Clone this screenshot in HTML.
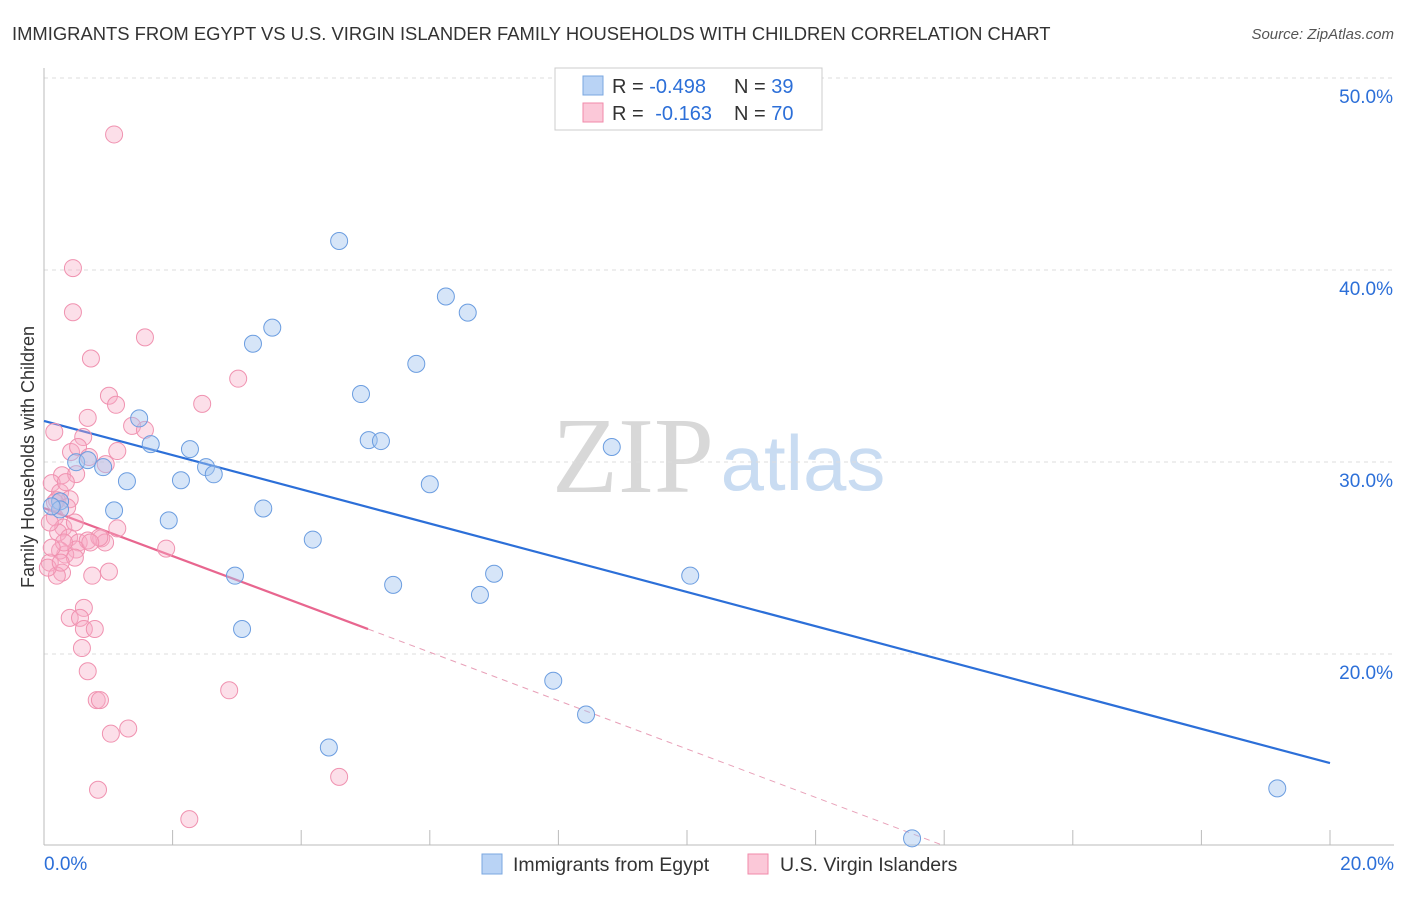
<!DOCTYPE html>
<html><head><meta charset="utf-8"><style>
body{margin:0;background:#fff;font-family:"Liberation Sans",sans-serif;}
</style></head><body>
<svg id="chart" width="1406" height="892" xmlns="http://www.w3.org/2000/svg">
<text x="12" y="40" font-size="18.4" fill="#333">IMMIGRANTS FROM EGYPT VS U.S. VIRGIN ISLANDER FAMILY HOUSEHOLDS WITH CHILDREN CORRELATION CHART</text>
<text x="1394" y="39" font-size="15" fill="#555" font-style="italic" text-anchor="end">Source: ZipAtlas.com</text>
<g>
<text x="633" y="492" font-size="108" fill="#d8d8d8" font-family="Liberation Serif,serif" text-anchor="middle">ZIP</text>
<text x="803" y="490" font-size="78" fill="#c9dcf2" text-anchor="middle">atlas</text>
</g>
<g id="grid"></g>
<g id="axes"></g>
<g id="lines"></g>
<g id="points"></g>
<text transform="translate(34,457) rotate(-90)" font-size="18" fill="#333" text-anchor="middle">Family Households with Children</text>
<g>
<rect x="555" y="68" width="267" height="62" fill="#fff" stroke="#ccc"/>
<rect x="583" y="76" width="20" height="19" fill="#b9d3f5" stroke="#7aa7e0"/>
<rect x="583" y="103" width="20" height="19" fill="#fbc8d8" stroke="#f08aaa"/>
<text x="612" y="93" font-size="20" fill="#333">R = <tspan fill="#2c6fd8">-0.498</tspan><tspan x="734">N = </tspan><tspan fill="#2c6fd8">39</tspan></text>
<text x="612" y="120" font-size="20" fill="#333">R = <tspan fill="#2c6fd8" dx="6">-0.163</tspan><tspan x="734">N = </tspan><tspan fill="#2c6fd8">70</tspan></text>
</g>
<g>
<rect x="482" y="854" width="20" height="20" fill="#b9d3f5" stroke="#7aa7e0"/>
<text x="513" y="871" font-size="19.5" fill="#333">Immigrants from Egypt</text>
<rect x="748" y="854" width="20" height="20" fill="#fbc8d8" stroke="#f08aaa"/>
<text x="780" y="871" font-size="19.5" fill="#333">U.S. Virgin Islanders</text>
</g>
</svg>
<script>
const blueX=[4.59,6.25,6.59,3.55,3.25,5.79,4.93,1.48,1.66,5.05,5.24,2.27,8.83,0.50,0.68,0.92,2.52,2.64,2.13,1.29,6.00,3.41,1.09,1.94,0.25,4.18,7.00,10.05,2.97,5.43,6.78,3.08,7.92,8.43,4.43,19.18,13.50,0.25,0.12];
const blueY=[41.51,38.62,37.78,37.0,36.16,35.11,33.54,32.27,30.93,31.14,31.09,30.67,30.78,29.99,30.10,29.73,29.73,29.36,29.05,29.0,28.84,27.58,27.48,26.96,27.95,25.96,24.18,24.08,24.08,23.60,23.08,21.30,18.61,16.85,15.13,13.0,10.4,27.53,27.69];
const pinkX=[1.09,0.45,0.45,0.73,1.57,3.02,1.01,1.12,2.46,0.68,0.16,1.37,1.57,0.61,0.42,1.14,0.53,0.70,0.96,0.28,0.50,0.12,0.25,0.40,0.20,0.36,0.17,0.30,0.22,0.39,0.54,0.68,0.89,0.95,0.50,0.33,0.25,0.09,0.28,0.48,1.14,1.90,0.86,0.20,0.75,1.01,0.62,0.40,0.56,0.62,0.79,0.59,0.68,0.82,0.87,1.04,1.31,2.88,0.84,2.26,4.59,0.06,0.09,0.17,0.34,0.72,0.48,0.31,0.12,0.26];
const pinkY=[47.06,40.10,37.80,35.39,36.49,34.34,33.45,32.98,33.03,32.30,31.57,31.88,31.67,31.30,30.52,30.57,30.78,30.26,29.89,29.31,29.37,28.90,28.42,28.06,28.01,27.64,27.12,26.59,26.33,26.07,25.81,25.91,26.02,25.81,25.44,25.18,25.39,24.76,24.24,25.02,26.54,25.49,26.07,24.08,24.08,24.29,22.40,21.88,21.88,21.30,21.30,20.31,19.10,17.60,17.60,15.85,16.12,18.11,12.93,11.40,13.60,24.50,26.85,27.90,28.95,25.81,26.85,25.81,25.54,24.76];
const blueTrend=[[0,32.14],[20,14.32]];
const pinkTrendSolid=[[0,27.60],[5.04,21.30]];
const pinkTrendDash=[[5.04,21.30],[13.97,10.05]];
const yTicks=[20,30,40,50];
const xTickVals=[0,2,4,6,8,10,12,14,16,18,20];
const NS="http://www.w3.org/2000/svg";
const xS=v=>44+v*64.3;
const yS=v=>78+(50-v)*19.2;
function mk(tag,attrs,parent){const e=document.createElementNS(NS,tag);for(const k in attrs)e.setAttribute(k,attrs[k]);document.getElementById(parent).appendChild(e);return e;}
yTicks.forEach(t=>{
  const l=mk('line',{x1:44,x2:1394,y1:yS(t),y2:yS(t),stroke:'#ddd','stroke-dasharray':'4,4'},'grid');
  
  
  const tx=mk('text',{x:1393,y:yS(t)+25,'font-size':19,fill:'#2c6fd8','text-anchor':'end'},'grid');
  tx.textContent=t.toFixed(1)+'%';
  
  
});
const ax=mk('line',{x1:44,x2:44,y1:68,y2:845,stroke:'#bbb'},'axes');


const bx=mk('line',{x1:44,x2:1394,y1:845,y2:845,stroke:'#bbb'},'axes');


xTickVals.forEach(t=>{
  const l=mk('line',{x1:xS(t),x2:xS(t),y1:830,y2:845,stroke:'#bbb'},'axes');
  
  
});
[[0,'start'],[20,'end']].forEach(([t,a])=>{
  const tx=mk('text',{x:t===0?44:1394,y:870,'font-size':19,fill:'#2c6fd8','text-anchor':a},'axes');
  tx.textContent=t.toFixed(1)+'%';
  
  
});
function line(p,stroke,dash,name){
  const l=mk('line',{x1:xS(p[0][0]),y1:yS(p[0][1]),x2:xS(p[1][0]),y2:yS(p[1][1]),stroke:stroke,'stroke-width':dash?1:2.2},'lines');
  if(dash)l.setAttribute('stroke-dasharray','6,5');
  
  
}
pinkX.forEach((x,i)=>{
  const c=mk('circle',{cx:xS(x),cy:yS(pinkY[i]),r:8.5,fill:'rgba(247,170,196,0.38)',stroke:'#f092b0','stroke-width':1},'points');
  
  
});
blueX.forEach((x,i)=>{
  const c=mk('circle',{cx:xS(x),cy:yS(blueY[i]),r:8.5,fill:'rgba(165,198,240,0.45)',stroke:'#6b9de0','stroke-width':1},'points');
  
  
});
line(blueTrend,'#2c6fd8',false,'egypt-trend-line');
line(pinkTrendSolid,'#e8668f',false,'virgin-trend-line');
line(pinkTrendDash,'#e8a0b8',true,'virgin-trend-extension');
</script>
</body></html>
